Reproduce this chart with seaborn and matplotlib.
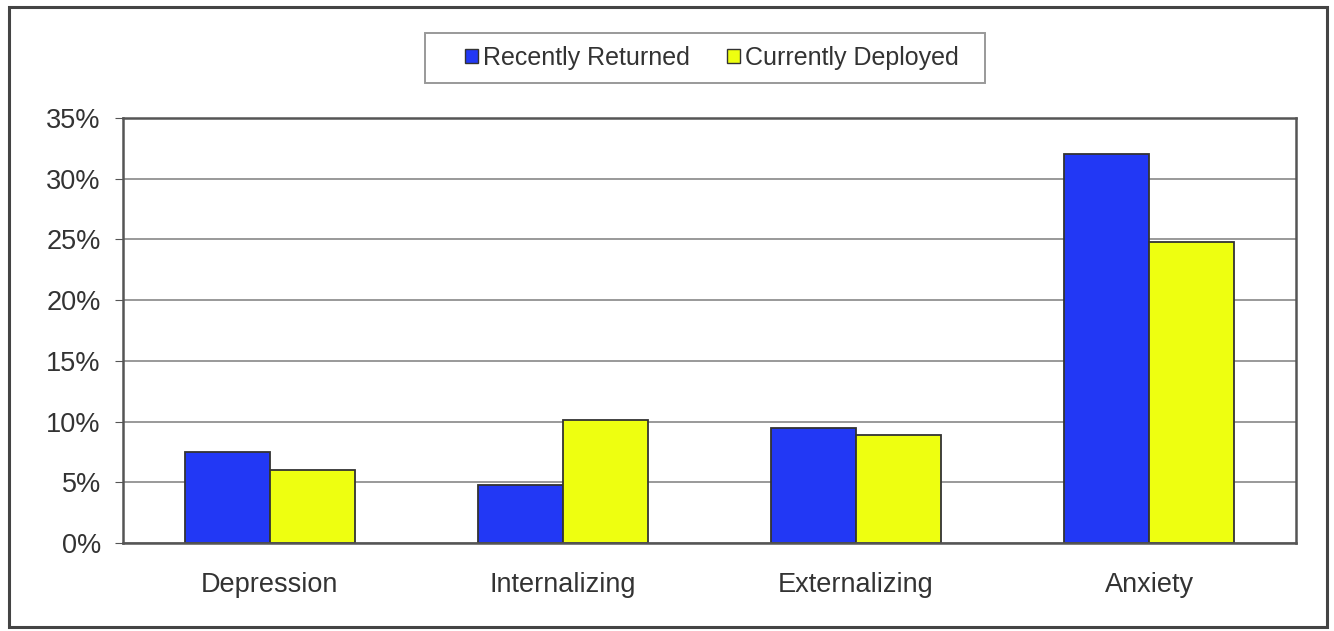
import matplotlib
matplotlib.use('Agg')
import matplotlib.pyplot as plt
import matplotlib.patches as mpatches
import seaborn as sns
import pandas as pd
import numpy as np

# Datos
categorias = ['Depression', 'Internalizing', 'Externalizing', 'Anxiety']
recently_returned = [7.5, 4.8, 9.5, 32.0]
currently_deployed = [6.0, 10.1, 8.9, 24.8]
series = ['Recently Returned', 'Currently Deployed']
y_ticks = [0, 5, 10, 15, 20, 25, 30, 35]

df = pd.DataFrame({
    'categoria': categorias * 2,
    'grupo': [series[0]] * 4 + [series[1]] * 4,
    'valor': recently_returned + currently_deployed,
})

sns.set_style('white')
plt.rcParams['font.family'] = ['Liberation Sans', 'DejaVu Sans']

fig = plt.figure(figsize=(13.34, 6.31), dpi=100)
ax = fig.add_axes([0.0922, 0.1395, 0.8793, 0.6735])

colores = {series[0]: '#2238F5', series[1]: '#EEFF10'}
sns.barplot(data=df, x='categoria', y='valor', hue='grupo', palette=colores,
            width=0.58, gap=0, edgecolor='#333333', linewidth=1.3,
            saturation=1, ax=ax, legend=False)

ax.set_ylim(0, 35)
ax.set_xlim(-0.5, 3.5)
ax.set_yticks(y_ticks)
ax.set_yticklabels([f'{t}%' for t in y_ticks], fontsize=19.5, color='#333333')
ax.tick_params(axis='x', labelsize=19.5, colors='#333333', length=0, pad=21)
ax.set_xticks(np.arange(-0.5, 4, 1), minor=True)
ax.tick_params(axis='x', which='minor', length=5, color='#555555', direction='out')
ax.tick_params(axis='y', length=6, color='#555555', direction='out', left=True, pad=10)
ax.set_xlabel('')
ax.set_ylabel('')
ax.yaxis.grid(True, color='#888888', linewidth=1.2)
ax.set_axisbelow(True)
for s in ax.spines.values():
    s.set_color('#555555')
    s.set_linewidth(1.8)

# Leyenda (marco dibujado aparte)
handles = [mpatches.Patch(facecolor=colores[s], edgecolor='#333333', label=s) for s in series]
leg = fig.legend(handles=handles, loc='center', bbox_to_anchor=(0.5337, 0.908),
                 ncol=2, fontsize=18, frameon=False,
                 handlelength=0.5, handleheight=0.5, handletextpad=0.2,
                 columnspacing=1.5, borderpad=0.3)
for t in leg.get_texts():
    t.set_color('#333333')
fig.patches.append(mpatches.Rectangle((0.3186, 0.8685), 0.4198, 0.0792, transform=fig.transFigure,
                                      fill=False, edgecolor='#999999', linewidth=1.4))

# Marco exterior
fig.patches.append(mpatches.Rectangle((0.007, 0.006), 0.988, 0.983, transform=fig.transFigure,
                                      fill=False, edgecolor='#444444', linewidth=2.2))

fig.savefig('out.png', dpi=100)
